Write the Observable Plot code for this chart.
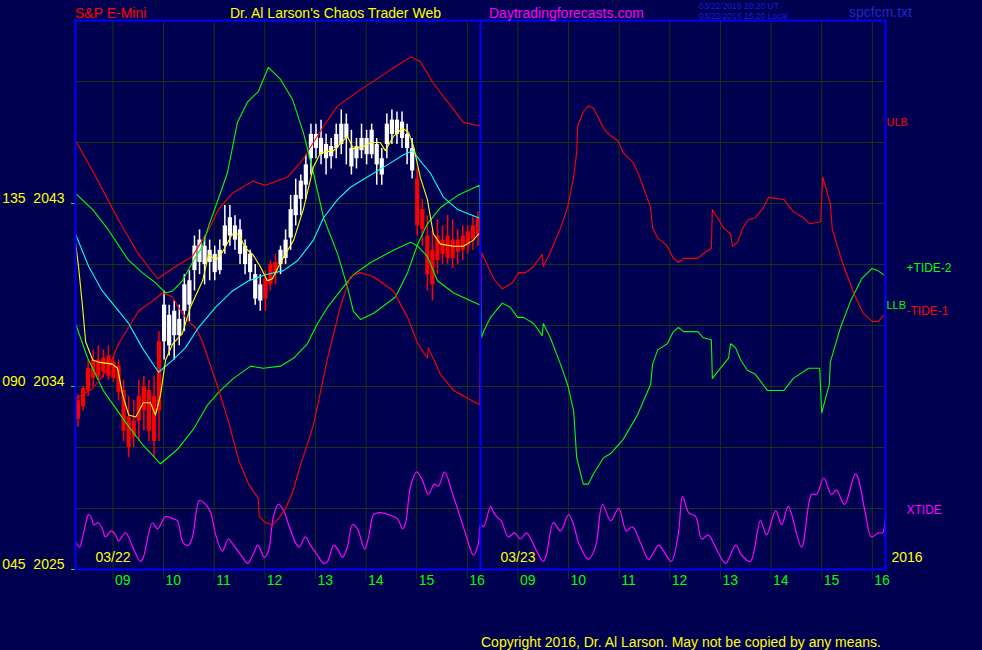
<!DOCTYPE html>
<html><head><meta charset="utf-8">
<script src="https://cdn.jsdelivr.net/npm/d3@7"></script>
<script src="https://cdn.jsdelivr.net/npm/@observablehq/plot@0.6"></script>
<style>
html,body{margin:0;padding:0;background:#000050;}
#wrap{position:relative;width:982px;height:650px;overflow:hidden;font-family:"Liberation Sans",Arial,sans-serif;}
#wrap svg{position:absolute;left:0;top:0;}
.t{position:absolute;white-space:nowrap;font-size:14px;line-height:1;}
</style></head><body><div id="wrap">
<div class="t" style="left:75px;top:6px;color:#ff0000">S&amp;P E-Mini</div>
<div class="t" style="left:230px;top:6px;color:#ffff00">Dr. Al Larson's Chaos Trader Web</div>
<div class="t" style="left:489px;top:6px;color:#ff00ff">Daytradingforecasts.com</div>
<div class="t" style="left:699px;top:2px;color:#1c1cd8;font-size:8.5px">03/22/2016 20:20 UT</div>
<div class="t" style="left:699px;top:12px;color:#1c1cd8;font-size:8.5px">03/22/2016 15:20 Local</div>
<div class="t" style="left:849px;top:5px;color:#2424c8">spcfcm.txt</div>
<div class="t" style="left:481px;top:635px;color:#ffff00">Copyright 2016, Dr. Al Larson. May not be copied by any means.</div>
</div>
<script>
// ---- axis / tick data ----
const yTickVals = [2025, 2034, 2043];
const yTickAlt = ["045", "090", "135"];
const yGridVals = [2028, 2031, 2034, 2037, 2040, 2043, 2046, 2049];
const dayLabels = ["03/22", "03/23"];
const yearLabel = "2016";
const hourLabels = ["09", "10", "11", "12", "13", "14", "15", "16"];
const sessionStartHour = 8.26;   // each day panel opens ~08:16
const sessionHours = 8;          // hours shown per day panel

// ---- price bars (6-minute bars, day 1), session hours from open ----
const barStep = 0.1;
const barHigh = [2033.6,2034.0,2035.3,2035.8,2036.0,2035.8,2036.0,2035.5,2035.3,2034.3,
 2033.5,2033.3,2034.3,2034.5,2034.3,2034.5,2036.7,2038.7,2038.0,2038.2,
 2038.0,2039.5,2039.7,2041.4,2041.7,2041.4,2041.2,2040.9,2041.2,2042.9,
 2042.9,2042.4,2042.2,2041.2,2040.7,2040.0,2039.5,2039.7,2040.2,2040.5,
 2040.9,2041.7,2043.4,2044.2,2044.4,2045.4,2046.9,2046.9,2047.1,2046.4,
 2046.2,2046.9,2047.6,2047.4,2046.6,2046.2,2046.9,2046.6,2046.9,2046.2,
 2045.7,2047.4,2047.6,2047.5,2047.5,2046.9,2046.2,2044.7,2043.2,2042.4,
 2041.7,2042.2,2041.9,2042.4,2042.2,2041.7,2041.9,2041.9,2042.4,2042.6];
const barLow = [2032.0,2032.8,2033.5,2034.0,2034.3,2034.4,2034.3,2034.2,2033.3,2031.3,
 2030.5,2031.0,2031.3,2031.8,2031.3,2030.5,2031.3,2035.3,2035.5,2035.3,
 2036.0,2036.7,2037.2,2038.7,2039.5,2039.0,2039.2,2039.2,2039.5,2040.5,
 2040.9,2040.7,2040.0,2039.5,2039.2,2038.0,2037.7,2037.7,2038.7,2039.0,
 2039.5,2040.0,2040.7,2041.9,2042.4,2043.2,2044.4,2045.2,2044.9,2044.4,
 2044.7,2045.2,2045.4,2044.9,2044.4,2044.7,2045.2,2044.9,2045.2,2043.9,
 2043.9,2045.2,2045.9,2045.9,2045.7,2044.9,2044.2,2041.4,2040.9,2038.7,
 2038.2,2039.5,2040.0,2040.0,2039.8,2040.0,2040.2,2040.5,2040.7,2040.9];
const barTop = [2033.3,2033.9,2034.9,2035.3,2035.3,2035.4,2035.5,2035.2,2035.0,2033.8,
 2032.5,2032.3,2033.5,2034.0,2033.8,2033.5,2036.2,2038.0,2037.5,2037.7,
 2037.3,2039.0,2039.2,2040.9,2041.2,2040.9,2040.7,2040.5,2040.7,2041.9,
 2042.3,2041.9,2041.7,2040.9,2040.5,2039.5,2039.0,2039.3,2040.0,2040.1,
 2040.7,2041.2,2042.7,2043.4,2044.1,2044.9,2046.4,2046.4,2046.2,2045.9,
 2045.8,2046.4,2046.9,2046.9,2045.7,2045.8,2046.2,2046.2,2046.6,2045.9,
 2045.2,2046.9,2047.1,2047.1,2047.0,2046.4,2045.7,2044.2,2042.7,2041.4,
 2040.7,2041.4,2041.2,2041.4,2041.2,2041.2,2041.4,2041.6,2041.9,2042.3];
const barBot = [2032.4,2033.0,2033.8,2034.4,2034.5,2034.7,2034.5,2034.4,2033.7,2031.8,
 2031.0,2031.5,2032.3,2032.8,2031.8,2031.3,2032.8,2036.2,2036.0,2036.5,
 2036.5,2037.7,2038.0,2039.7,2040.1,2040.0,2040.1,2039.6,2039.7,2040.9,
 2041.4,2041.2,2040.5,2040.0,2039.6,2038.3,2038.2,2038.3,2039.0,2039.5,
 2040.0,2040.3,2041.3,2042.4,2043.2,2043.9,2045.2,2045.7,2045.4,2045.2,
 2045.3,2045.7,2045.9,2046.2,2044.8,2045.2,2045.6,2045.4,2045.4,2044.9,
 2044.4,2045.9,2046.4,2046.4,2046.2,2045.7,2044.6,2041.9,2041.7,2039.5,
 2039.0,2040.2,2040.5,2040.3,2040.3,2040.6,2040.7,2040.9,2041.2,2041.4];
// trend runs: [number of bars, trend]
const trendRuns = [[17, "down"], [20, "up"], [3, "down"], [27, "up"], [13, "down"]];

// ---- indicator lines: [session hour, value] ----
const ulb = [[0,2046.1],[0.36,2044.5],[0.89,2042.0],[1.22,2040.6],[1.62,2039.3],[1.98,2039.9],[2.31,2040.4],[2.63,2041.7],[2.82,2042.7],[3.10,2043.5],[3.50,2044.1],[3.75,2043.9],[4.19,2044.3],[4.50,2045.2],[4.70,2046.0],[4.90,2046.8],[5.18,2047.8],[5.63,2048.6],[6.12,2049.4],[6.42,2049.9],[6.62,2050.2],[6.81,2050.0],[7.07,2048.9],[7.66,2047.0],[8.0,2046.8]];
const llb = [[0,2037.1],[0.24,2035.4],[0.55,2033.8],[1.03,2032.1],[1.34,2031.1],[1.68,2030.2],[2.01,2030.9],[2.33,2031.9],[2.61,2033.1],[2.86,2033.8],[3.12,2034.4],[3.46,2035.0],[3.71,2034.9],[4.05,2035.0],[4.31,2035.4],[4.58,2036.1],[4.78,2037.1],[4.98,2037.9],[5.23,2038.7],[5.49,2039.5],[5.83,2040.1],[6.28,2040.7],[6.62,2041.1],[6.76,2040.9],[6.95,2040.4],[7.15,2039.2],[7.47,2038.6],[8.0,2038.0]];
const tide2 = [[0,2043.5],[0.34,2042.7],[0.65,2041.7],[1.05,2040.2],[1.32,2039.6],[1.58,2039.1],[1.78,2038.6],[1.92,2038.7],[2.11,2039.2],[2.31,2040.1],[2.51,2040.9],[2.63,2041.9],[2.79,2043.0],[3.00,2044.5],[3.20,2047.0],[3.40,2048.0],[3.61,2048.5],[3.81,2049.7],[4.05,2049.1],[4.29,2048.1],[4.50,2046.5],[4.70,2044.5],[4.90,2042.3],[5.18,2040.5],[5.37,2038.9],[5.49,2037.7],[5.63,2037.3],[5.89,2037.6],[6.32,2038.4],[6.56,2039.6],[6.76,2041.0],[6.95,2042.0],[7.21,2042.8],[7.55,2043.4],[7.98,2043.9],
 [8.02,2036.4],[8.06,2036.7],[8.20,2037.4],[8.43,2038.1],[8.59,2037.9],[8.73,2037.4],[8.85,2037.4],[9.05,2037.1],[9.22,2036.5],[9.24,2037.1],[9.38,2036.4],[9.58,2035.1],[9.72,2034.1],[9.84,2032.8],[9.90,2030.5],[10.03,2029.2],[10.13,2029.2],[10.23,2029.7],[10.43,2030.5],[10.57,2030.7],[10.82,2031.4],[11.10,2032.6],[11.36,2034.1],[11.40,2035.1],[11.50,2035.8],[11.69,2036.1],[11.81,2036.7],[11.91,2036.9],[12.01,2036.7],[12.29,2036.7],[12.40,2036.4],[12.56,2036.3],[12.58,2034.4],[12.74,2034.9],[12.90,2035.4],[12.94,2036.1],[13.04,2035.9],[13.14,2035.3],[13.27,2034.8],[13.43,2034.6],[13.67,2033.8],[13.99,2033.8],[14.18,2034.4],[14.48,2034.9],[14.70,2034.9],[14.74,2032.7],[14.89,2034.1],[14.91,2035.2],[15.11,2036.9],[15.31,2038.2],[15.53,2039.3],[15.73,2039.8],[15.85,2039.7],[15.96,2039.5]];
const tide1 = [[0,2033.4],[0.34,2033.9],[0.65,2034.9],[0.85,2036.1],[1.05,2036.9],[1.24,2037.7],[1.52,2038.2],[1.72,2038.6],[1.92,2038.4],[2.03,2037.9],[2.23,2037.2],[2.37,2036.9],[2.51,2036.2],[2.63,2035.3],[2.82,2033.9],[3.02,2032.3],[3.22,2030.4],[3.42,2029.2],[3.61,2028.5],[3.63,2027.6],[3.75,2027.3],[3.89,2027.2],[4.01,2027.5],[4.15,2028.0],[4.29,2028.8],[4.44,2030.1],[4.70,2032.1],[4.98,2035.4],[5.23,2037.9],[5.43,2039.4],[5.63,2039.6],[5.89,2039.4],[6.28,2038.7],[6.56,2037.4],[6.76,2036.1],[6.95,2035.4],[6.97,2035.9],[7.21,2034.6],[7.47,2033.8],[7.98,2033.1],
 [8.02,2040.6],[8.26,2039.3],[8.43,2038.8],[8.63,2039.1],[8.75,2039.6],[8.89,2039.6],[9.05,2039.9],[9.22,2040.5],[9.24,2039.9],[9.38,2040.6],[9.58,2041.8],[9.72,2042.8],[9.84,2044.3],[9.90,2045.5],[9.92,2046.8],[10.03,2047.5],[10.13,2047.8],[10.23,2047.7],[10.31,2047.3],[10.43,2046.7],[10.53,2046.4],[10.71,2046.1],[10.82,2045.5],[11.02,2045.0],[11.16,2044.2],[11.26,2043.5],[11.36,2042.8],[11.40,2041.8],[11.50,2041.3],[11.69,2040.9],[11.81,2040.3],[11.91,2040.1],[12.01,2040.3],[12.29,2040.3],[12.44,2040.6],[12.56,2040.8],[12.58,2042.7],[12.68,2042.3],[12.80,2041.8],[12.94,2041.5],[12.98,2040.9],[13.08,2041.1],[13.18,2041.8],[13.29,2042.2],[13.43,2042.3],[13.59,2042.8],[13.69,2043.3],[13.99,2043.2],[14.18,2042.6],[14.38,2042.3],[14.50,2042.0],[14.72,2042.1],[14.76,2044.3],[14.91,2043.0],[14.95,2041.7],[15.05,2040.9],[15.15,2040.1],[15.37,2038.6],[15.56,2037.6],[15.74,2037.2],[15.86,2037.2],[15.96,2037.5]];
const slowAvg = [[0,2041.5],[0.26,2039.9],[0.53,2038.7],[0.79,2037.9],[1.05,2037.1],[1.32,2035.9],[1.64,2034.7],[1.92,2035.3],[2.17,2035.9],[2.43,2036.9],[2.77,2037.9],[3.10,2038.7],[3.42,2039.2],[3.75,2039.5],[4.11,2039.7],[4.39,2040.2],[4.70,2041.2],[4.90,2042.3],[5.18,2043.2],[5.43,2043.8],[5.83,2044.4],[6.16,2044.9],[6.48,2045.4],[6.66,2045.6],[6.81,2045.1],[7.01,2044.5],[7.27,2043.3],[7.55,2042.7],[7.96,2042.3]];
const fastAvg = [[0,2041.1],[0.06,2039.9],[0.14,2037.9],[0.20,2036.2],[0.34,2035.3],[0.45,2035.2],[0.73,2035.1],[0.83,2034.9],[0.93,2033.6],[1.05,2032.6],[1.19,2032.5],[1.34,2033.2],[1.48,2033.2],[1.58,2032.6],[1.68,2033.6],[1.78,2035.3],[1.92,2036.1],[2.11,2036.6],[2.27,2037.9],[2.51,2039.2],[2.63,2040.5],[2.77,2040.2],[2.90,2040.6],[3.10,2041.5],[3.22,2041.5],[3.36,2040.8],[3.50,2040.5],[3.65,2039.9],[3.79,2039.2],[3.89,2039.3],[4.05,2040.1],[4.31,2041.2],[4.50,2042.7],[4.70,2044.8],[4.84,2045.5],[5.10,2045.6],[5.37,2046.3],[5.49,2045.7],[5.69,2045.8],[5.83,2046.0],[6.02,2046.0],[6.12,2045.6],[6.28,2046.3],[6.46,2046.7],[6.58,2046.5],[6.68,2045.8],[6.81,2044.3],[6.95,2043.2],[7.07,2041.5],[7.21,2041.0],[7.47,2040.9],[7.66,2040.9],[7.86,2041.2],[7.96,2041.5]];
const xtide = [[0,2026.4],[0.08,2026.1],[0.16,2026.8],[0.26,2027.7],[0.32,2027.5],[0.36,2027.2],[0.45,2027.3],[0.53,2027.0],[0.59,2026.6],[0.71,2026.9],[0.79,2026.7],[0.85,2026.4],[0.99,2026.8],[1.13,2026.1],[1.28,2025.4],[1.34,2025.6],[1.52,2027.3],[1.62,2027.0],[1.78,2027.6],[1.92,2027.5],[2.01,2027.4],[2.13,2026.3],[2.23,2026.2],[2.31,2026.6],[2.45,2028.4],[2.57,2028.2],[2.67,2027.8],[2.77,2026.7],[2.90,2025.9],[3.02,2026.5],[3.12,2026.2],[3.30,2025.6],[3.40,2025.3],[3.50,2025.7],[3.60,2026.2],[3.65,2026.0],[3.73,2025.6],[3.81,2025.9],[3.91,2027.6],[4.01,2028.2],[4.11,2027.9],[4.21,2027.2],[4.35,2026.3],[4.42,2026.1],[4.54,2026.6],[4.64,2026.2],[4.78,2025.7],[4.90,2025.3],[4.98,2025.4],[5.10,2026.2],[5.18,2026.0],[5.27,2025.6],[5.37,2026.1],[5.47,2027.2],[5.57,2027.0],[5.71,2026.0],[5.79,2026.6],[5.89,2027.7],[6.02,2027.8],[6.18,2027.7],[6.36,2027.5],[6.46,2027.0],[6.52,2027.3],[6.62,2029.1],[6.74,2029.8],[6.85,2029.4],[6.97,2028.7],[7.09,2029.2],[7.17,2029.1],[7.29,2029.8],[7.45,2028.7],[7.57,2027.8],[7.70,2026.8],[7.86,2025.7],[7.96,2026.3],[8.00,2027.2],[8.06,2027.1],[8.20,2028.1],[8.26,2027.8],[8.36,2027.5],[8.41,2027.4],[8.55,2026.6],[8.67,2026.8],[8.79,2026.5],[8.91,2026.8],[9.09,2026.0],[9.24,2025.4],[9.30,2025.7],[9.44,2027.3],[9.58,2026.9],[9.74,2027.7],[9.84,2027.2],[9.94,2026.3],[10.13,2025.5],[10.27,2026.1],[10.41,2028.2],[10.57,2027.4],[10.73,2028.0],[10.88,2026.9],[11.00,2027.1],[11.18,2026.2],[11.32,2025.5],[11.52,2026.2],[11.62,2025.9],[11.77,2025.4],[11.91,2026.8],[11.99,2028.6],[12.11,2027.8],[12.25,2027.6],[12.37,2026.5],[12.50,2026.7],[12.64,2026.1],[12.84,2025.3],[13.04,2026.2],[13.16,2025.7],[13.33,2025.4],[13.53,2027.4],[13.65,2026.7],[13.83,2027.9],[13.95,2027.2],[14.08,2028.1],[14.34,2026.1],[14.54,2028.7],[14.64,2028.7],[14.78,2029.5],[14.93,2028.7],[15.03,2028.9],[15.19,2028.2],[15.41,2029.7],[15.60,2027.8],[15.72,2026.6],[15.86,2026.8],[15.94,2026.8],[16.0,2027.7]];

// right-hand series labels: name and the level they sit at
const seriesNames = ["ULB", "LLB", "+TIDE-2", "-TIDE-1", "XTIDE"];
const seriesLabelLevels = [2047.0, 2038.0, 2039.8, 2037.7, 2027.9];

// ---- styles ----
const C = {bg: "#000050", frame: "#0000ff", grid: "#153515", red: "#ff0000", green: "#00ff00",
  cyan: "#00ffff", yellow: "#ffff00", magenta: "#ff00ff", white: "#ffffff"};
const seriesColor = {"ULB": C.red, "LLB": C.green, "+TIDE-2": C.green, "-TIDE-1": C.red, "XTIDE": C.magenta};
const trendColor = {down: C.red, up: C.white};

// ---- build tables ----
const trend = trendRuns.flatMap(([n, tr]) => Array(n).fill(tr));
const bars = barHigh.map((hi, i) => ({t: (i + 0.5) * barStep, hi, lo: barLow[i], top: barTop[i], bot: barBot[i], c: trendColor[trend[i]]}));
const xTicks = [];
dayLabels.forEach((d, di) => hourLabels.forEach(h => xTicks.push({s: di * sessionHours + (+h - sessionStartHour), label: h})));
const dayTable = dayLabels.map((d, di) => ({s: di * sessionHours, label: d}));
const yTickTable = yTickVals.map((v, i) => ({v, label: yTickAlt[i] + "\u00a0\u00a0" + v}));
const labelTable = seriesNames.map((n, i) => ({name: n, y: seriesLabelLevels[i], c: seriesColor[n]}));
const nearLabels = labelTable.filter(d => d.name === "ULB" || d.name === "LLB");
const farLabels = labelTable.filter(d => !(d.name === "ULB" || d.name === "LLB"));

const X = d => d[0], Y = d => d[1];
const chart = Plot.plot({
  width: 982, height: 650,
  marginLeft: 75, marginRight: 97, marginTop: 20, marginBottom: 81,
  style: {background: C.bg, color: C.yellow, fontFamily: "Liberation Sans, Arial, sans-serif", fontSize: "14px", overflow: "visible"},
  x: {domain: [0, 2 * sessionHours], axis: null},
  y: {domain: [2025, 2052], axis: null},
  color: {type: "identity"},
  marks: [
    Plot.ruleY(yGridVals, {stroke: C.grid}),
    Plot.ruleX(xTicks, {x: "s", stroke: C.grid}),
    Plot.axisX({ticks: xTicks.map(d => d.s), tickSize: 10, tickFormat: () => "", stroke: C.grid, strokeOpacity: 1}),
    Plot.text(xTicks, {x: "s", text: "label", frameAnchor: "bottom", dy: 15, dx: 2, textAnchor: "start", fill: C.green, fontSize: 14}),
    Plot.axisY({ticks: yTickVals, tickSize: 4, tickFormat: () => "", stroke: C.green, strokeOpacity: 1}),
    Plot.text(yTickTable, {y: "v", text: "label", frameAnchor: "left", dx: -11, dy: -5, textAnchor: "end", fill: C.yellow, fontSize: 14}),
    Plot.line(xtide, {x: X, y: Y, stroke: C.magenta, strokeWidth: 1.2, curve: "catmull-rom"}),
    Plot.ruleX(bars, {x: "t", y1: "lo", y2: "hi", stroke: "c", strokeWidth: 1.5}),
    Plot.ruleX(bars, {x: "t", y1: "bot", y2: "top", stroke: "c", strokeWidth: 4.2}),
    Plot.line(ulb, {x: X, y: Y, stroke: C.red, strokeWidth: 1.1}),
    Plot.line(llb, {x: X, y: Y, stroke: C.green, strokeWidth: 1.1}),
    Plot.line(tide2, {x: X, y: Y, stroke: C.green, strokeWidth: 1.1}),
    Plot.line(tide1, {x: X, y: Y, stroke: C.red, strokeWidth: 1.1}),
    Plot.line(slowAvg, {x: X, y: Y, stroke: C.cyan, strokeWidth: 1.1}),
    Plot.line(fastAvg, {x: X, y: Y, stroke: C.yellow, strokeWidth: 1.1}),
    Plot.frame({stroke: C.frame, strokeWidth: 2}),
    Plot.ruleX([sessionHours], {stroke: C.frame, strokeWidth: 2}),
    Plot.text(dayTable, {x: "s", text: "label", frameAnchor: "bottom", dx: 20, dy: -8, textAnchor: "start", fill: C.yellow, fontSize: 14}),
    Plot.text([yearLabel], {text: d => d, frameAnchor: "bottom-right", dx: 6, dy: -8, textAnchor: "start", fill: C.yellow, fontSize: 14}),
    Plot.text(nearLabels, {y: "y", text: "name", frameAnchor: "right", dx: 1, textAnchor: "start", fill: "c", fontSize: 11}),
    Plot.text(farLabels, {y: "y", text: "name", frameAnchor: "right", dx: 21, textAnchor: "start", fill: "c", fontSize: 12})
  ]
});
document.getElementById("wrap").prepend(chart);
</script>
</body></html>
